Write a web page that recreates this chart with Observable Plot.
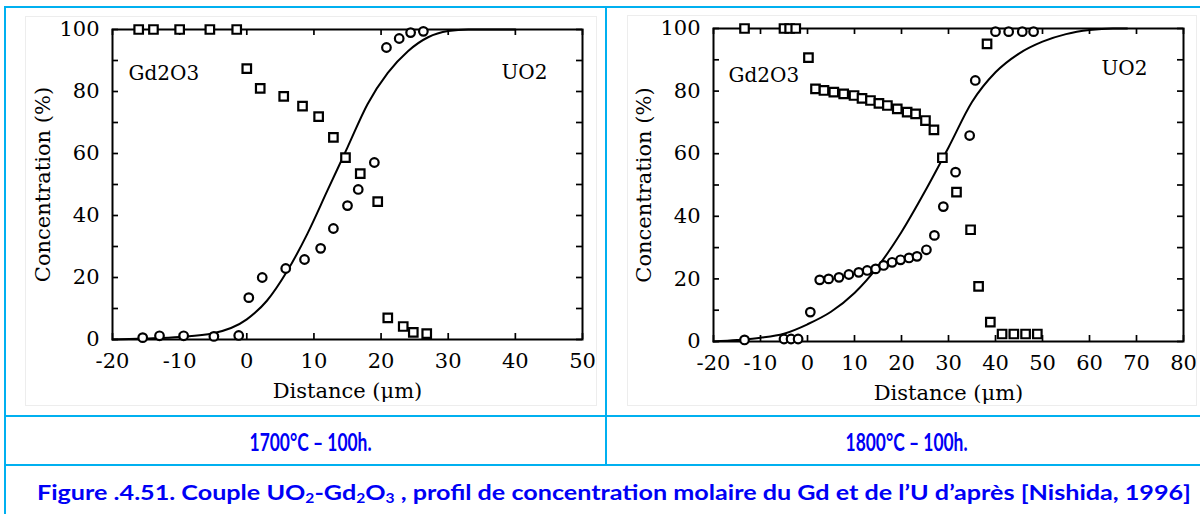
<!DOCTYPE html>
<html><head><meta charset="utf-8">
<script src="https://cdn.jsdelivr.net/npm/d3@7"></script>
<script src="https://cdn.jsdelivr.net/npm/@observablehq/plot@0.6"></script>
<style>
body{margin:0;background:#fff;}
#page{position:relative;width:1200px;height:514px;overflow:hidden;background:#fff;}
.b{position:absolute;background:#00B0F0;}
.panel{position:absolute;border:1px solid #ededed;box-sizing:border-box;}
.cap{position:absolute;font-family:Lato,"Open Sans",sans-serif;font-weight:bold;color:#0000F5;white-space:nowrap;transform-origin:center center;}
.cap sub{font-size:0.62em;vertical-align:-0.2em;line-height:0;}
</style></head><body>
<div id="page">
  <div class="panel" style="left:25px;top:16px;width:572px;height:390px"></div>
  <div class="panel" style="left:627px;top:15px;width:570px;height:391px"></div>
  <div id="c1" style="position:absolute;left:25px;top:16px"></div>
  <div id="c2" style="position:absolute;left:627px;top:15px"></div>
  <div class="b" style="left:4px;top:6px;width:1196px;height:2px"></div>
  <div class="b" style="left:4px;top:6px;width:2px;height:508px"></div>
  <div class="b" style="left:605px;top:6px;width:2px;height:460px"></div>
  <div class="b" style="left:4px;top:415px;width:1196px;height:2px"></div>
  <div class="b" style="left:4px;top:464px;width:1196px;height:2px"></div>
  <div class="cap" id="t1" style="font-size:25px" data-cx="311" data-cy="441" data-w="122">1700°C – 100h.</div>
  <div class="cap" id="t2" style="font-size:25px" data-cx="907" data-cy="441" data-w="122">1800°C – 100h.</div>
  <div class="cap" id="t3" style="font-size:21px" data-cx="614" data-cy="491" data-w="1154">Figure .4.51. Couple UO<sub>2</sub>-Gd<sub>2</sub>O<sub>3</sub> , profil de concentration molaire du Gd et de l’U d’après [Nishida, 1996]</div>
</div>
<script>
// ---- 1700°C – 100h ----
const gdX1 = [-16.1, -13.9, -10.0, -5.5, -1.5, 0.0, 2.0, 5.5, 8.3, 10.7, 12.9, 14.7, 16.9, 19.5, 21.0, 23.3, 24.8, 26.8];
const gdY1 = [100, 100, 100, 100, 100, 87.4, 81.0, 78.4, 75.3, 71.9, 65.2, 58.7, 53.5, 44.5, 7.0, 4.2, 2.3, 1.9];
const uX1 = [-15.5, -13.0, -9.4, -4.9, -1.2, 0.3, 2.3, 5.8, 8.6, 11.0, 12.9, 15.0, 16.6, 19.0, 20.8, 22.7, 24.4, 26.3];
const uY1 = [0.6, 1.2, 1.2, 1.0, 1.3, 13.5, 20.0, 22.9, 25.8, 29.4, 35.8, 43.2, 48.4, 57.1, 94.2, 97.1, 99.0, 99.4];
const fitX1 = [-20, -15, -10, -5, 0, 3, 6, 9, 12, 15, 18, 21, 24, 27, 30, 33, 40];
const fitY1 = [0, 0.3, 0.8, 2, 6.5, 12.5, 22, 34, 48, 62, 76, 86, 93, 97.5, 99.5, 100, 100];
const xTicks1 = [-20, -10, 0, 10, 20, 30, 40, 50];

// ---- 1800°C – 100h ----
const gdX2 = [-13.4, -5.0, -3.8, -2.5, 0.2, 1.7, 3.5, 5.6, 7.7, 9.9, 11.6, 13.4, 15.2, 17.0, 19.1, 21.2, 23.0, 25.1, 26.9, 28.7, 31.7, 34.7, 36.4, 38.2, 38.9, 41.4, 43.9, 46.4, 48.9];
const gdY2 = [100, 100, 100, 100, 90.7, 80.7, 80.2, 79.7, 79.1, 78.6, 77.7, 77.0, 76.1, 75.4, 74.3, 73.3, 72.7, 70.6, 67.6, 58.7, 47.7, 35.7, 17.6, 95.1, 6.2, 2.4, 2.4, 2.4, 2.4];
const uX2 = [-13.4, -5.0, -3.5, -2.0, 0.6, 2.6, 4.5, 6.7, 8.8, 10.9, 12.7, 14.5, 16.2, 18.0, 19.8, 21.6, 23.3, 25.3, 27.0, 28.9, 31.5, 34.5, 35.7, 40.0, 42.8, 45.7, 48.1];
const uY2 = [0.5, 0.8, 0.8, 0.8, 9.4, 19.7, 20.0, 20.5, 21.4, 22.1, 22.7, 23.2, 24.3, 25.3, 26.1, 26.7, 27.2, 29.3, 33.9, 43.1, 54.1, 65.8, 83.4, 99.0, 99.0, 99.0, 99.0];
const fitX2 = [-20, -15, -10, -5, 0, 5, 10, 15, 20, 25, 30, 35, 40, 45, 50, 55, 60, 65, 68];
const fitY2 = [0, 0.5, 1.2, 2.5, 5.5, 9.5, 15.5, 24, 35, 48, 62, 76.5, 86, 92, 95.8, 98.2, 99.5, 100, 100];
const xTicks2 = [-20, -10, 0, 10, 20, 30, 40, 50, 60, 70, 80];

const yTicks = [0, 10, 20, 30, 40, 50, 60, 70, 80, 90, 100];
const yLabelled = [0, 20, 40, 60, 80, 100];
const xLabel = "Distance (μm)";
const yLabel = "Concentration (%)";
const leftText = "Gd2O3";
const rightText = "UO2";

function pts(xs, ys) { return xs.map((x, i) => ({x, y: ys[i]})); }

function chart(o) {
  const gd = pts(o.gdX, o.gdY), u = pts(o.uX, o.uY), fit = pts(o.fitX, o.fitY);
  const ph = o.height - o.mt - o.mb, pw = o.width - o.ml - o.mr, tk = 6;
  return Plot.plot({
    width: o.width, height: o.height,
    marginLeft: o.ml, marginRight: o.mr, marginTop: o.mt, marginBottom: o.mb,
    style: {fontFamily: "DejaVu Serif", fontSize: "21px", color: "black", background: "transparent", overflow: "visible"},
    x: {domain: [o.xTicks[0], o.xTicks[o.xTicks.length - 1]]},
    y: {domain: [0, 100]},
    marks: [
      Plot.axisX({anchor: "bottom", ticks: o.xTicks, tickSize: 0, tickPadding: 14, tickFormat: d => String(d),
        label: xLabel, labelAnchor: "center", labelOffset: 58, labelArrow: "none"}),
      Plot.axisY({anchor: "left", ticks: yLabelled, tickSize: 0, tickPadding: 13, tickFormat: d => String(d),
        label: yLabel, labelAnchor: "center", labelOffset: o.labelOffsetY, labelArrow: "none"}),
      // inward ticks on all four sides
      Plot.tickX(o.xTicks, {x: d => d, insetTop: ph - tk, stroke: "black", strokeWidth: 1.7}),
      Plot.tickX(o.xTicks, {x: d => d, insetBottom: ph - tk, stroke: "black", strokeWidth: 1.7}),
      Plot.tickY(yTicks, {y: d => d, insetRight: pw - tk, stroke: "black", strokeWidth: 1.7}),
      Plot.tickY(yTicks, {y: d => d, insetLeft: pw - tk, stroke: "black", strokeWidth: 1.7}),
      Plot.frame({stroke: "black", strokeWidth: 2}),
      Plot.line(fit, {x: "x", y: "y", curve: "monotone-x", stroke: "black", strokeWidth: 2}),
      Plot.dot(gd, {x: "x", y: "y", symbol: "square", r: 4.8, fill: "white", stroke: "black", strokeWidth: 2.2}),
      Plot.dot(u, {x: "x", y: "y", symbol: "circle", r: 4.3, fill: "white", stroke: "black", strokeWidth: 2.2}),
      Plot.text([leftText], {frameAnchor: "top-left", dx: o.gdDx, dy: o.gdDy, textAnchor: "start", lineAnchor: "middle", fontSize: 20}),
      Plot.text([rightText], {frameAnchor: "top-right", dx: o.uoDx, dy: o.uoDy, textAnchor: "end", lineAnchor: "middle", fontSize: 20})
    ]
  });
}

document.getElementById("c1").appendChild(chart({
  gdX: gdX1, gdY: gdY1, uX: uX1, uY: uY1, fitX: fitX1, fitY: fitY1, xTicks: xTicks1,
  width: 572, height: 390, ml: 87, mr: 15, mt: 13, mb: 67, labelOffsetY: 77,
  gdDx: 16, gdDy: 44, uoDx: -35, uoDy: 43
}));
document.getElementById("c2").appendChild(chart({
  gdX: gdX2, gdY: gdY2, uX: uX2, uY: uY2, fitX: fitX2, fitY: fitY2, xTicks: xTicks2,
  width: 570, height: 391, ml: 86, mr: 14, mt: 13, mb: 65, labelOffsetY: 77,
  gdDx: 15, gdDy: 47, uoDx: -36, uoDy: 40
}));

for (const el of document.querySelectorAll(".cap")) {
  const w = el.getBoundingClientRect().width, h = el.getBoundingClientRect().height;
  const cx = +el.dataset.cx, cy = +el.dataset.cy, tw = +el.dataset.w;
  el.style.left = (cx - w / 2) + "px";
  el.style.top = (cy - h / 2) + "px";
  el.style.transform = `scaleX(${tw / w})`;
}
</script>
</body></html>
